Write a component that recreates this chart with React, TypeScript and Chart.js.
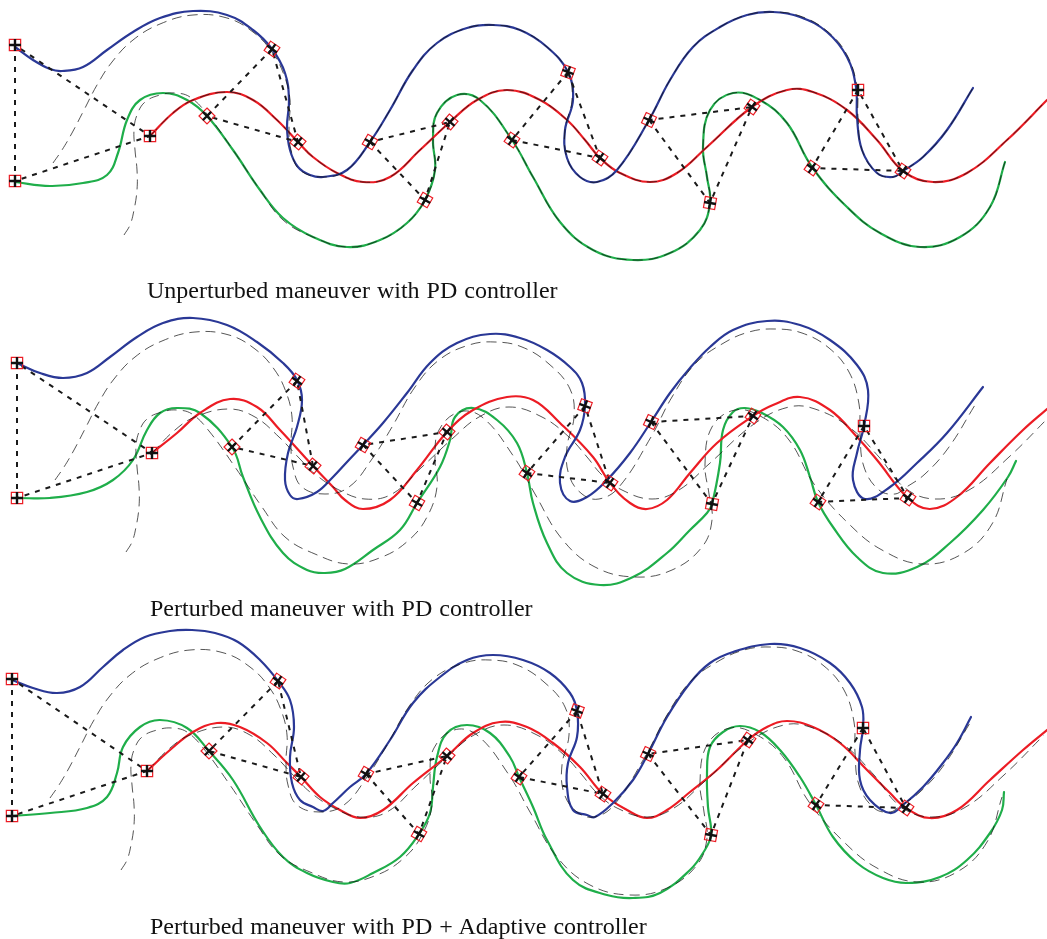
import React, { useEffect, useRef } from "react";
import { Chart, registerables } from "chart.js";

Chart.register(...registerables);

type P = [number, number];

// ---------- Reference (desired) trajectories, drawn dashed; base = panel 1 ----------
const REF_BLUE: P[] = [
  [53,163],[62,150],[72,133],[84,110],[97,85],[112,62],[133,40],[160,24],[193,15],[227,18],[253,32],[272,52],[284,75],[290,100],[289,127],[291,150],[300,170],[323,177],[347,170],[370,142],[390,110],[413,70],[437,43],[467,28],[493,25],[520,30],[547,47],[568,72],[572,100],[565,130],[567,158],[580,177],[597,182],[617,170],[649,120],[670,80],[693,47],[720,27],[747,15],[773,12],[800,16],[827,31],[847,55],[857,87],[858,117],[862,150],[877,173],[893,177],[903,171],[923,157],[947,130],[973,88],
];
const REF_RED: P[] = [
  [150,136],[173,113],[193,100],[227,92],[253,100],[277,120],[298,142],[313,157],[337,173],[363,182],[390,177],[420,150],[450,122],[477,100],[507,90],[540,100],[567,120],[585,140],[600,158],[620,173],[650,182],[677,173],[707,147],[752,107],[787,90],[813,92],[847,110],[877,140],[903,171],[933,182],[967,173],[1007,140],[1047,100],
];
const REF_GREEN: P[] = [
  [124,235],[130,225],[134,210],[137,190],[137,170],[135,150],[134,130],[137,115],[145,102],[160,95],[175,93],[190,97],[207,114],[233,150],[260,190],[283,220],[313,237],[347,247],[380,240],[407,223],[425,200],[435,170],[433,140],[437,113],[457,95],[480,100],[512,140],[533,177],[560,222],[593,250],[633,260],[670,253],[700,230],[710,203],[707,177],[703,147],[710,110],[733,93],[760,100],[787,123],[812,167],[847,207],[880,233],[920,247],[960,237],[990,207],[1005,162],
];
// shift of the reference in each panel
const REF_SHIFT: P[] = [[0, 0], [2, 317], [-3, 635]];

// ---------- Panel 1: Unperturbed maneuver with PD controller ----------
const P1_BLUE: P[] = [
  [15,47],[33,60],[50,69],[62,71],[83,67],[107,50],[133,32],[160,18],[193,11],[227,15],[253,30],[272,49],[285,73],[289,100],[287,127],[290,150],[298,167],[310,175],[323,177],[347,170],[370,142],[390,110],[413,70],[437,43],[467,28],[493,25],[520,30],[547,47],[568,72],[573,100],[565,130],[567,158],[580,177],[597,182],[617,170],[649,120],[670,80],[693,47],[720,27],[747,15],[773,12],[800,17],[827,32],[847,57],[856,87],[857,117],[862,150],[877,173],[893,177],[903,171],[923,157],[947,130],[973,88],
];
const P1_RED: P[] = [
  [150,136],[173,113],[193,100],[227,92],[253,100],[277,120],[298,142],[313,157],[337,173],[363,182],[390,177],[420,150],[450,122],[477,100],[507,90],[540,100],[567,120],[585,140],[600,158],[620,173],[650,182],[677,173],[707,147],[752,107],[787,90],[813,92],[847,110],[877,140],[903,171],[933,182],[967,173],[1007,140],[1047,100],
];
const P1_GREEN: P[] = [
  [15,182],[50,186],[83,183],[107,175],[118,153],[127,120],[140,100],[163,93],[187,100],[207,116],[233,150],[260,190],[283,218],[313,237],[347,247],[380,240],[407,223],[425,200],[435,170],[433,140],[437,113],[457,95],[480,100],[512,140],[533,177],[560,222],[593,250],[633,260],[670,253],[700,230],[710,203],[707,177],[703,147],[710,110],[733,93],[760,100],[787,123],[812,167],[847,207],[880,233],[920,247],[960,237],[990,207],[1005,162],
];
const P1_BLUE_MARK: P[] = [[15,45],[272,49],[370,142],[568,72],[649,120],[858,90]];
const P1_RED_MARK: P[] = [[150,136],[298,142],[450,122],[600,158],[752,107],[903,171]];
const P1_GREEN_MARK: P[] = [[15,181],[207,116],[425,200],[512,140],[710,203],[812,168]];

// ---------- Panel 2: Perturbed maneuver with PD controller ----------
const P2_BLUE: P[] = [
  [17,363],[40,373],[63,378],[87,373],[110,357],[137,337],[163,323],[193,318],[227,325],[257,342],[283,363],[297,380],[302,400],[297,427],[288,453],[285,480],[290,495],[298,499],[317,492],[333,477],[347,462],[363,445],[383,423],[407,393],[430,363],[457,343],[490,334],[520,338],[547,350],[570,367],[582,383],[585,406],[580,430],[565,457],[560,483],[570,501],[587,497],[607,480],[630,453],[651,422],[670,393],[690,368],[710,347],[733,330],[767,321],[800,325],[830,340],[857,365],[868,390],[864,426],[857,453],[853,480],[865,499],[890,487],[917,463],[947,433],[983,387],
];
const P2_RED: P[] = [
  [152,453],[177,433],[200,413],[230,399],[257,407],[280,430],[313,466],[333,487],[345,500],[363,509],[390,500],[417,470],[447,432],[473,410],[507,397],[533,400],[560,423],[593,457],[610,483],[630,503],[647,509],[667,500],[690,473],[717,443],[753,416],[773,405],[800,397],[830,410],[857,437],[877,460],[908,498],[930,509],[957,497],[990,463],[1023,430],[1047,409],
];
const P2_GREEN: P[] = [
  [17,498],[50,498],[87,492],[113,480],[133,460],[147,430],[160,413],[177,408],[200,413],[232,447],[243,477],[260,517],[283,553],[307,570],[325,573],[345,569],[373,550],[400,530],[417,503],[440,467],[450,440],[455,417],[473,408],[497,420],[517,443],[527,473],[533,503],[547,543],[567,573],[600,585],[633,577],[667,553],[690,530],[707,513],[712,504],[720,463],[723,430],[733,412],[745,408],[762,413],[783,427],[800,450],[810,477],[818,502],[833,527],[857,557],[883,573],[917,567],[950,543],[983,510],[1008,477],[1016,461],
];
const P2_BLUE_MARK: P[] = [[17,363],[297,381],[363,445],[585,406],[651,422],[864,426]];
const P2_RED_MARK: P[] = [[152,453],[313,466],[447,432],[610,483],[753,416],[908,498]];
const P2_GREEN_MARK: P[] = [[17,498],[232,447],[417,503],[527,473],[712,504],[818,502]];

// ---------- Panel 3: Perturbed maneuver with PD + Adaptive controller ----------
const P3_BLUE: P[] = [
  [12,680],[33,688],[57,693],[80,687],[103,667],[123,650],[145,637],[170,631],[192,630],[215,633],[238,642],[260,660],[278,681],[290,700],[294,727],[290,757],[292,783],[300,800],[313,807],[323,811],[333,803],[350,787],[366,774],[390,740],[413,703],[440,677],[467,660],[493,655],[523,660],[550,673],[570,693],[577,711],[577,737],[568,763],[567,787],[573,810],[587,815],[595,817],[613,803],[633,780],[648,754],[667,717],[690,683],[710,663],[733,652],[770,644],[800,648],[830,663],[850,683],[862,707],[863,728],[860,750],[860,780],[870,800],[890,813],[903,805],[923,787],[943,763],[957,743],[971,717],
];
const P3_RED: P[] = [
  [147,771],[170,750],[193,732],[217,723],[240,727],[267,743],[287,763],[301,777],[320,797],[340,810],[360,818],[383,810],[413,783],[447,756],[473,733],[500,722],[527,727],[553,743],[580,767],[603,794],[627,810],[647,818],[667,810],[690,792],[717,770],[748,740],[767,727],[787,721],[813,727],[840,743],[867,770],[890,793],[906,808],[930,818],[957,810],[990,780],[1023,750],[1047,730],
];
const P3_GREEN: P[] = [
  [12,816],[50,813],[87,808],[107,797],[117,773],[123,747],[140,727],[160,720],[187,728],[209,751],[233,780],[260,827],[283,857],[307,873],[333,882],[350,883],[373,873],[400,857],[419,834],[430,813],[433,787],[437,757],[447,733],[467,725],[490,733],[510,757],[519,777],[533,807],[547,840],[573,880],[607,895],[633,898],[660,893],[690,870],[703,853],[711,835],[708,807],[707,773],[710,747],[723,732],[740,726],[760,732],[780,750],[800,777],[816,805],[833,837],[857,863],[883,878],[907,883],[940,877],[967,860],[990,833],[1002,810],[1004,792],
];
const P3_BLUE_MARK: P[] = [[12,679],[278,681],[366,774],[577,711],[648,754],[863,728]];
const P3_RED_MARK: P[] = [[147,771],[301,777],[447,756],[603,794],[748,740],[906,808]];
const P3_GREEN_MARK: P[] = [[12,816],[209,751],[419,834],[519,777],[711,835],[816,805]];

// marker headings (degrees) per snapshot
const ROT_BLUE = [0, 35, 30, 20, 25, 0];
const ROT_RED = [0, 40, 40, 35, 35, 35];
const ROT_GREEN = [0, 45, 30, 35, 10, 35];

const CAPTIONS = [
  "Unperturbed maneuver with PD controller",
  "Perturbed maneuver with PD controller",
  "Perturbed maneuver with PD + Adaptive controller",
];

const C_BLUE = "#2a3896";
const C_RED = "#ec1c24";
const C_GREEN = "#1fae4a";

const PANELS = [
  { blue: P1_BLUE, red: P1_RED, green: P1_GREEN, mb: P1_BLUE_MARK, mr: P1_RED_MARK, mg: P1_GREEN_MARK, shift: REF_SHIFT[0] },
  { blue: P2_BLUE, red: P2_RED, green: P2_GREEN, mb: P2_BLUE_MARK, mr: P2_RED_MARK, mg: P2_GREEN_MARK, shift: REF_SHIFT[1] },
  { blue: P3_BLUE, red: P3_RED, green: P3_GREEN, mb: P3_BLUE_MARK, mr: P3_RED_MARK, mg: P3_GREEN_MARK, shift: REF_SHIFT[2] },
];

const toXY = (arr: P[], dx = 0, dy = 0) => arr.map(([x, y]) => ({ x: x + dx, y: y + dy }));

function buildDatasets() {
  const ds: any[] = [];
  PANELS.forEach((p) => {
    ([[p.blue, C_BLUE], [p.red, C_RED], [p.green, C_GREEN]] as [P[], string][]).forEach(([d, c]) => {
      ds.push({
        data: toXY(d), showLine: true, borderColor: c, borderWidth: 2.2, pointRadius: 0,
        tension: 0.4, fill: false, order: 4, borderCapStyle: "round", borderJoinStyle: "round",
      });
    });
    [REF_BLUE, REF_RED, REF_GREEN].forEach((d) => {
      ds.push({
        data: toXY(d, p.shift[0], p.shift[1]), showLine: true, borderColor: "rgba(20,20,20,0.8)", borderWidth: 0.9,
        borderDash: [10, 6], pointRadius: 0, tension: 0.4, fill: false, order: 3,
      });
    });
    for (let i = 0; i < p.mb.length; i++) {
      ds.push({
        data: toXY([p.mb[i], p.mg[i], p.mr[i], p.mb[i]]), showLine: true, borderColor: "#1a1a1a",
        borderWidth: 2, borderDash: [5, 6], pointRadius: 0, tension: 0, fill: false, order: 2,
      });
    }
    const all = [...p.mb, ...p.mr, ...p.mg];
    const rot = [...ROT_BLUE, ...ROT_RED, ...ROT_GREEN];
    ds.push({
      data: toXY(all), showLine: false, pointStyle: "rect", pointRadius: 8, pointRotation: rot,
      pointBorderColor: C_RED, pointBackgroundColor: "rgba(255,255,255,0)", pointBorderWidth: 1.2, order: 1,
    });
    ds.push({
      data: toXY(all), showLine: false, pointStyle: "cross", pointRadius: 6, pointRotation: rot,
      pointBorderColor: "#111", pointBorderWidth: 2.4, order: 0,
    });
  });
  return ds;
}

const CAPTION_LAYOUT = [
  { left: 147, top: 278 },
  { left: 150, top: 596 },
  { left: 150, top: 914 },
];

export default function App() {
  const ref = useRef<HTMLCanvasElement | null>(null);
  useEffect(() => {
    if (!ref.current) return;
    const chart = new Chart(ref.current, {
      type: "scatter",
      data: { datasets: buildDatasets() },
      options: {
        animation: false,
        responsive: false,
        maintainAspectRatio: false,
        devicePixelRatio: 1,
        events: [],
        layout: { padding: 0, autoPadding: false },
        plugins: { legend: { display: false }, tooltip: { enabled: false } },
        scales: {
          x: { type: "linear", min: 0, max: 1047, display: false },
          y: { type: "linear", min: 0, max: 939, reverse: true, display: false },
        },
      } as any,
    });
    return () => chart.destroy();
  }, []);
  return (
    <div style={{ position: "absolute", left: 0, top: 0, width: 1047, height: 939, background: "#fff", overflow: "hidden" }}>
      <canvas ref={ref} width={1047} height={939} style={{ position: "absolute", left: 0, top: 0, width: 1047, height: 939 }} />
      {CAPTIONS.map((t, i) => (
        <div
          key={i}
          style={{
            position: "absolute", left: CAPTION_LAYOUT[i].left, top: CAPTION_LAYOUT[i].top,
            fontFamily: "'Liberation Serif', 'Times New Roman', serif", fontSize: 24, lineHeight: "24px",
            color: "#111", whiteSpace: "nowrap", wordSpacing: 1,
          }}
        >
          {t}
        </div>
      ))}
    </div>
  );
}
